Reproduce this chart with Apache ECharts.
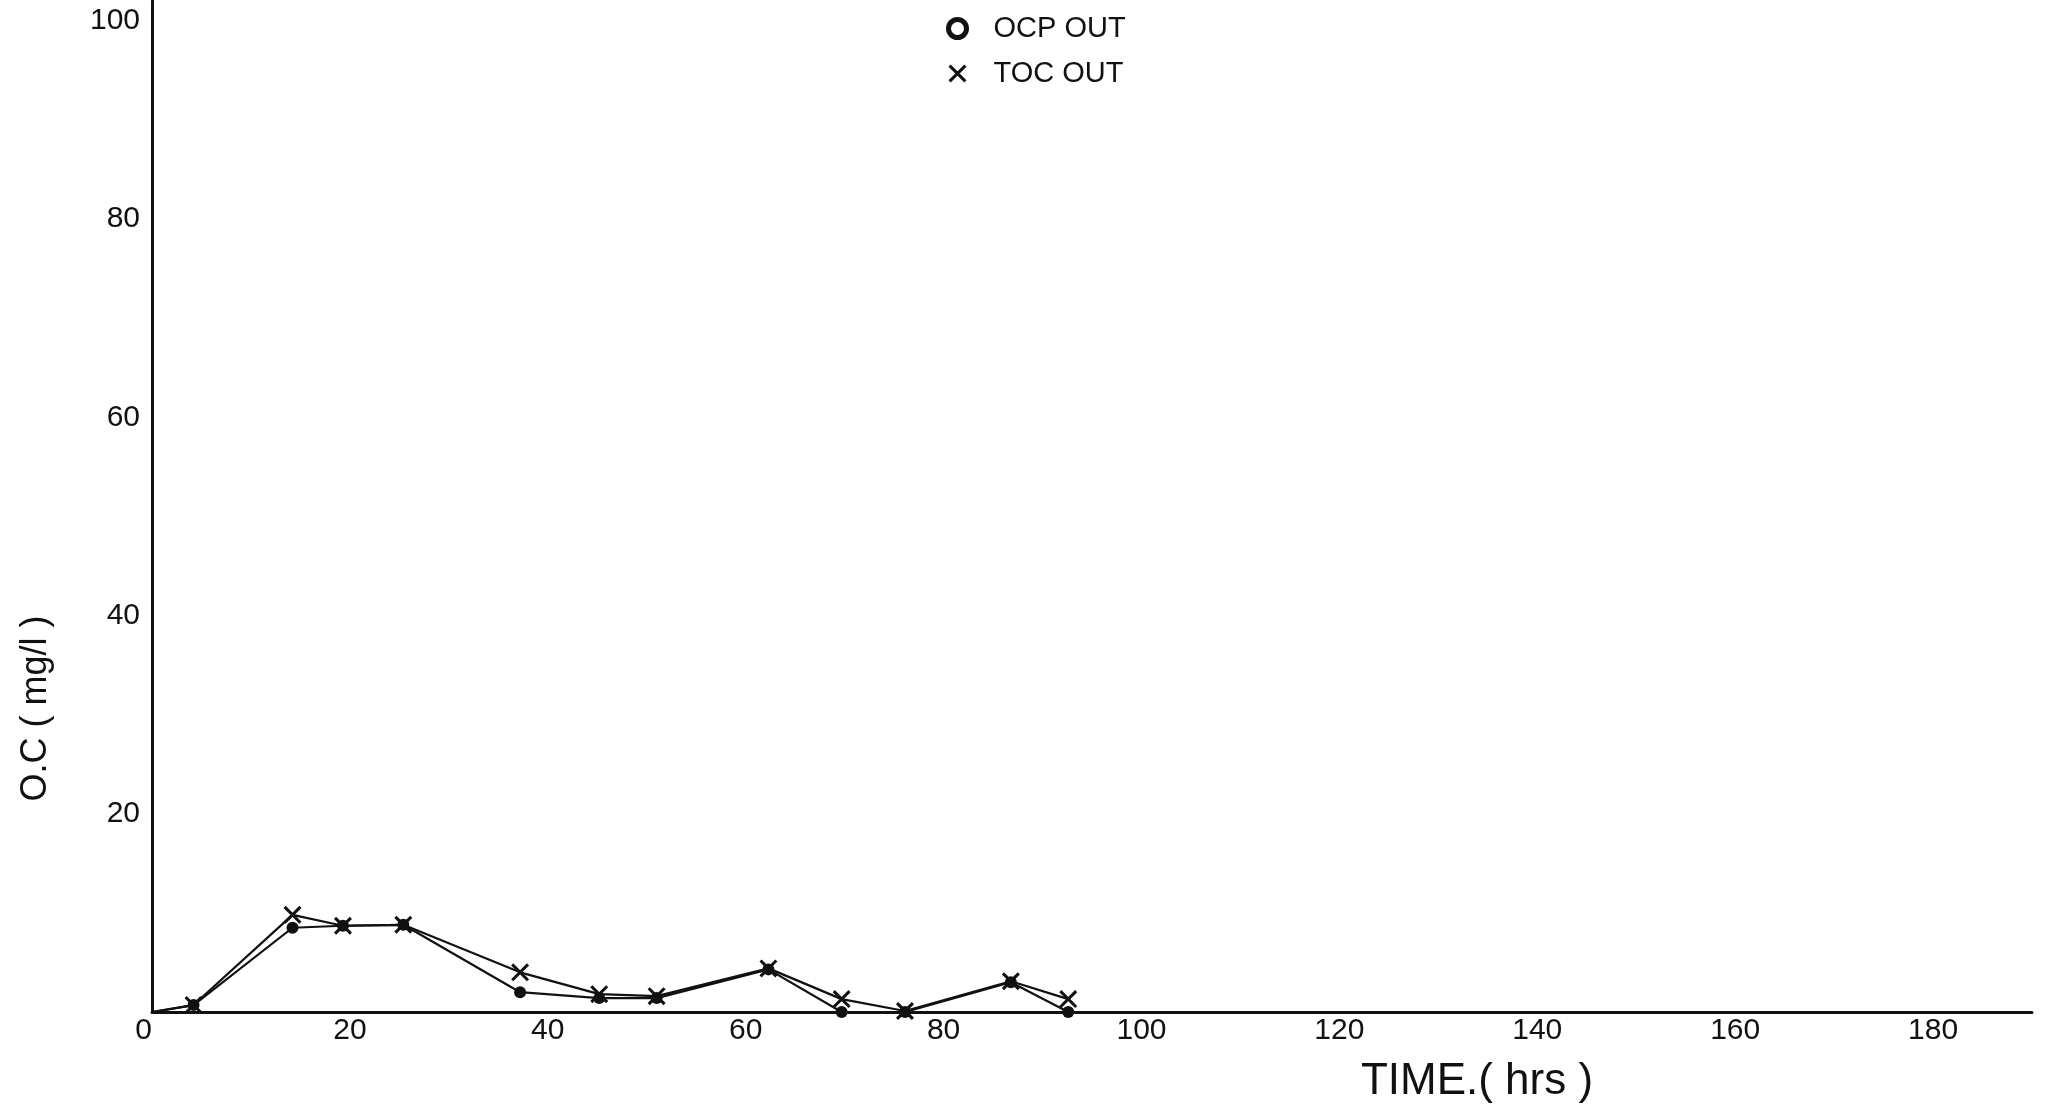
<!DOCTYPE html>
<html>
<head>
<meta charset="utf-8">
<title>OCP / TOC OUT vs time</title>
<script src="https://cdn.jsdelivr.net/npm/echarts@6/dist/echarts.min.js"></script>
<style>
  html, body { margin: 0; padding: 0; background: #fff; }
  #chart { width: 2057px; height: 1106px; }
</style>
</head>
<body>
<div id="chart"></div>
<script>
// Sampling times (hrs) and effluent concentrations (mg/l)
const times  = [0, 4.2, 14.2, 19.3, 25.4, 37.2, 45.2, 51.0, 62.3, 69.7, 76.1, 86.8, 92.6];
const ocpOut = [0, 0.7, 8.5, 8.7, 8.8, 2.0, 1.4, 1.4, 4.3, 0.0, 0.0, 3.0, 0.0];
const tocOut = [0, 0.7, 9.8, 8.7, 8.8, 4.0, 1.8, 1.6, 4.4, 1.3, 0.1, 3.1, 1.3];

const seriesNames = ['OCP OUT', 'TOC OUT'];
const xTitle = 'TIME.( hrs )';
const yTitle = 'O.C ( mg/l )';

const FONT = '"Liberation Sans", Arial, sans-serif';
const INK = '#111';
const crossPath = 'path://M0,1.2 L1.2,0 L10,8.8 L8.8,10 Z M8.8,0 L10,1.2 L1.2,10 L0,8.8 Z';

function points(ys) {
  // the curve starts at the origin, which carries no marker
  return times.map((t, i) => i === 0 ? { value: [t, ys[i]], symbol: 'none' } : [t, ys[i]]);
}

const chart = echarts.init(document.getElementById('chart'), null, { renderer: 'canvas' });

chart.setOption({
  backgroundColor: '#ffffff',
  animation: false,
  grid: { left: 152, right: 25, top: 1, bottom: 94, containLabel: false, outerBoundsMode: 'none' },
  legend: {
    orient: 'vertical',
    left: 941,
    top: 9,
    itemWidth: 18,
    itemHeight: 18,
    itemGap: 16,
    textStyle: { fontFamily: FONT, fontSize: 29, color: INK, padding: [0, 0, 0, 22] },
    data: [
      { name: seriesNames[0], icon: 'circle',
        itemStyle: { color: '#fff', borderColor: INK, borderWidth: 5 } },
      { name: seriesNames[1], icon: crossPath,
        itemStyle: { color: INK, borderWidth: 0 } }
    ]
  },
  xAxis: {
    type: 'value',
    min: 0, max: 190, interval: 20,
    name: xTitle,
    nameLocation: 'middle',
    nameGap: 48,
    nameTextStyle: { fontFamily: FONT, fontSize: 44, color: INK, padding: [0, 0, 0, 770] },
    axisLine: { show: true, onZero: false, lineStyle: { color: INK, width: 3 } },
    axisTick: { show: false },
    splitLine: { show: false },
    axisLabel: {
      fontFamily: FONT, fontSize: 30, color: INK, margin: 4,
      showMaxLabel: false, alignMinLabel: 'right'
    }
  },
  yAxis: {
    type: 'value',
    min: 0, max: 102, interval: 20,
    name: yTitle,
    nameLocation: 'middle',
    nameGap: 98,
    nameRotate: 90,
    nameTextStyle: { fontFamily: FONT, fontSize: 36, color: INK, padding: [0, 404, 0, 0] },
    axisLine: { show: true, lineStyle: { color: INK, width: 3 } },
    axisTick: { show: false },
    splitLine: { show: false },
    axisLabel: {
      fontFamily: FONT, fontSize: 30, color: INK, margin: 12,
      showMinLabel: false, showMaxLabel: false
    }
  },
  series: [
    {
      name: seriesNames[0],
      type: 'line',
      data: points(ocpOut),
      symbol: 'circle',
      symbolSize: 12,
      itemStyle: { color: INK },
      lineStyle: { color: INK, width: 2.2 },
      z: 3
    },
    {
      name: seriesNames[1],
      type: 'line',
      data: points(tocOut),
      symbol: crossPath,
      symbolSize: 18,
      itemStyle: { color: INK },
      lineStyle: { color: INK, width: 2.2 },
      z: 4
    }
  ]
});
</script>
</body>
</html>
